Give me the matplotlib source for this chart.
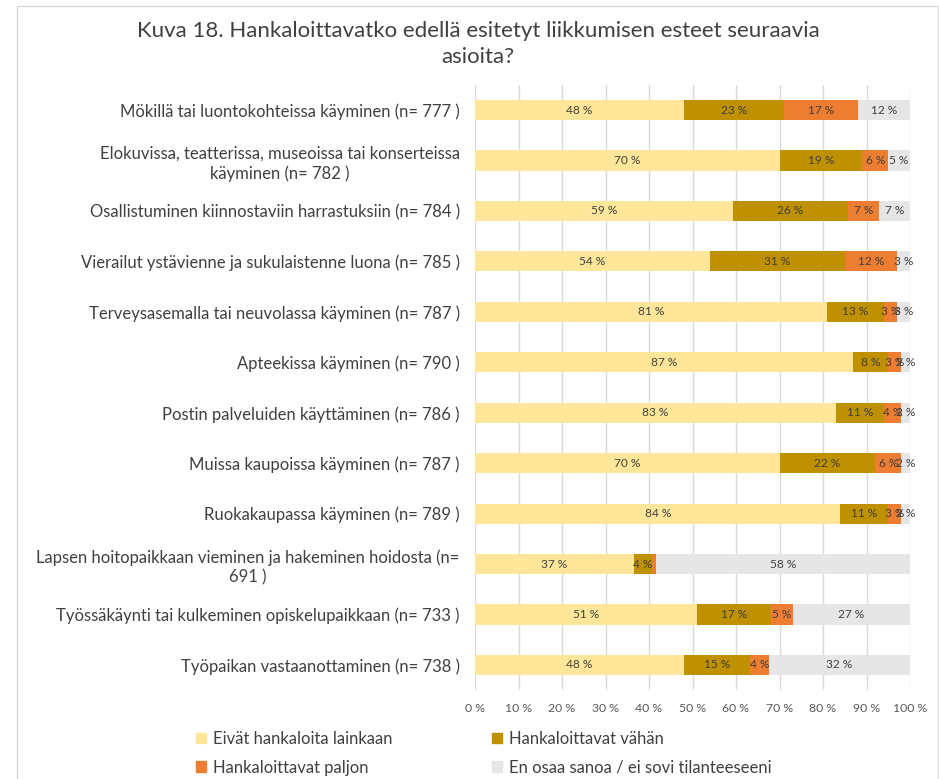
import numpy as np
import matplotlib
matplotlib.use("Agg")
import matplotlib.pyplot as plt
from matplotlib.patches import Rectangle, Patch

plt.rcParams['font.family'] = ['Lato', 'DejaVu Sans']

title = "Kuva 18. Hankaloittavatko edellä esitetyt liikkumisen esteet seuraavia\nasioita?"

categories = [
    "Mökillä tai luontokohteissa käyminen (n= 777 )",
    "Elokuvissa, teatterissa, museoissa tai konserteissa\nkäyminen (n= 782 )",
    "Osallistuminen kiinnostaviin harrastuksiin (n= 784 )",
    "Vierailut ystävienne ja sukulaistenne luona (n= 785 )",
    "Terveysasemalla tai neuvolassa käyminen (n= 787 )",
    "Apteekissa käyminen (n= 790 )",
    "Postin palveluiden käyttäminen (n= 786 )",
    "Muissa kaupoissa käyminen (n= 787 )",
    "Ruokakaupassa käyminen (n= 789 )",
    "Lapsen hoitopaikkaan vieminen ja hakeminen hoidosta (n=\n691 )",
    "Työssäkäynti tai kulkeminen opiskelupaikkaan (n= 733 )",
    "Työpaikan vastaanottaminen (n= 738 )",
]

series_names = [
    "Eivät hankaloita lainkaan",
    "Hankaloittavat vähän",
    "Hankaloittavat paljon",
    "En osaa sanoa / ei sovi tilanteeseeni",
]

ei_lainkaan = [48, 70, 59.2, 54, 81, 87, 83, 70, 84, 36.6, 51, 48.1]
vahan       = [23, 19, 26.5, 31, 13, 8, 11, 22, 11, 4.0, 17, 15.1]
paljon      = [17, 6, 7.2, 12, 3, 3, 4, 6, 3, 1.0, 5, 4.4]
en_osaa     = [12, 5, 7.1, 3, 3, 2, 2, 2, 2, 58.4, 27, 32.4]

colors = ["#FFE699", "#BF9000", "#ED7D31", "#E7E6E6"]
text_col = "#404040"

fig = plt.figure(figsize=(9.39, 7.79), dpi=100)
ax = fig.add_axes([475 / 939, 1 - 690.2 / 779, 435 / 939, (690.2 - 84.8) / 779])

y = np.arange(len(categories))
left = np.zeros(len(categories))
for vals, name, col in zip([ei_lainkaan, vahan, paljon, en_osaa], series_names, colors):
    vals = np.array(vals, dtype=float)
    ax.barh(y, vals, left=left, height=0.4, color=col, label=name, zorder=2)
    for yi, l, v in zip(y, left, vals):
        if v >= 1.5:
            ax.text(l + v / 2, yi, f"{v:.0f} %", ha="center", va="center",
                    fontsize=8.6, color=text_col, zorder=3)
    left += vals

ax.set_xlim(0, 100)
ax.set_ylim(len(categories) - 0.5, -0.5)
ax.set_xticks(np.arange(0, 101, 10))
ax.set_xticklabels([f"{t} %" for t in range(0, 101, 10)], fontsize=8.8, color="#595959")
ax.set_yticks(y)
ax.set_yticklabels(categories, fontsize=12, color=text_col, linespacing=1.25,
                   multialignment="center")
ax.tick_params(axis="y", length=0, pad=11)
ax.tick_params(axis="x", length=0, pad=9)
ax.grid(axis="x", color="#D9D9D9", linewidth=1, zorder=0)
for s in ax.spines.values():
    s.set_visible(False)

fig.text(478 / 939, 1 - 44 / 779, title, ha="center", va="center",
         fontsize=16, color=text_col, linespacing=1.35)

handles = [Patch(color=c) for c in colors]
order = [0, 2, 1, 3]
fig.legend([handles[i] for i in order], [series_names[i] for i in order],
           ncol=2, loc="upper left", bbox_to_anchor=(181 / 939, 1 - 716 / 779),
           frameon=False, fontsize=12, labelcolor=text_col,
           handlelength=0.6, handleheight=0.6, handletextpad=0.4,
           columnspacing=6.0, labelspacing=0.75)

fig.patches.append(Rectangle((17 / 939, -0.05), 921 / 939, 1.05 - 6 / 779,
                             transform=fig.transFigure, fill=False,
                             edgecolor="#D9D9D9", linewidth=1))

fig.savefig("out.png", dpi=100)
